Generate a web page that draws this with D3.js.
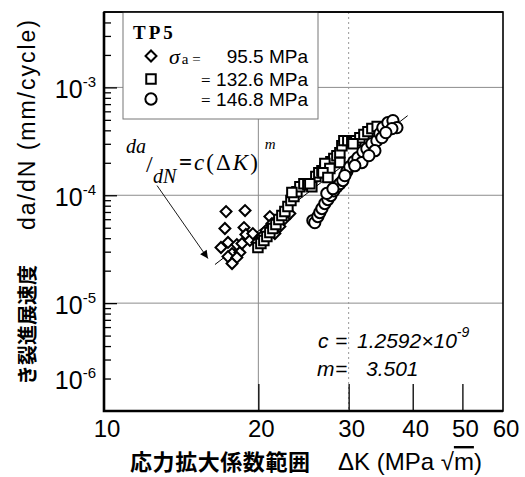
<!DOCTYPE html>
<html>
<head>
<meta charset="utf-8">
<script src="https://cdn.jsdelivr.net/npm/d3@7"></script>
<style>
  body { margin: 0; background: #fff; }
  svg { display: block; }
</style>
</head>
<body>
<script>
// sigma_a = 95.5 MPa  [dK, da/dN]
const seriesA = [
  [17.3, 7.06e-5], [18.84, 7.22e-5], [17.21, 4.92e-5], [18.75, 5.02e-5], [18.91, 4.33e-5],
  [17.45, 3.65e-5], [16.91, 3.28e-5], [18.16, 3.49e-5], [17.77, 2.88e-5], [18.41, 2.95e-5],
  [17.45, 2.70e-5], [18.16, 2.65e-5], [17.77, 2.33e-5], [18.58, 3.57e-5], [19.25, 3.81e-5],
  [19.51, 4.41e-5], [19.87, 3.65e-5], [20.32, 4.15e-5], [20.69, 4.71e-5], [21.06, 6.35e-5],
  [21.26, 5.47e-5], [21.54, 4.41e-5], [22.03, 5.13e-5], [22.53, 6.08e-5], [23.04, 6.77e-5]
];
// sigma_a = 132.6 MPa
const seriesB = [
  [19.96, 3.28e-5], [20.23, 3.57e-5], [20.50, 3.81e-5], [20.78, 4.15e-5], [21.06, 4.52e-5],
  [21.35, 4.92e-5], [21.64, 5.35e-5], [21.93, 5.96e-5], [22.23, 6.49e-5], [22.53, 7.06e-5],
  [22.84, 7.86e-5], [23.15, 8.93e-5], [23.46, 9.73e-5], [23.78, 1.08e-4], [24.10, 1.20e-4],
  [24.54, 1.28e-4], [24.98, 1.25e-4], [25.43, 1.20e-4], [25.89, 1.49e-4], [26.24, 1.62e-4],
  [26.61, 1.69e-4], [26.96, 1.80e-4], [27.33, 1.92e-4], [27.70, 2.05e-4], [28.07, 2.19e-4],
  [28.46, 2.33e-4], [28.84, 2.48e-4], [29.10, 2.88e-4], [29.36, 3.21e-4], [29.89, 3.21e-4],
  [30.43, 3.07e-4], [30.99, 3.21e-4], [31.55, 3.42e-4], [32.13, 3.65e-4], [32.71, 3.89e-4],
  [33.30, 4.15e-4], [23.25, 1.06e-4], [25.20, 1.28e-4], [26.96, 1.97e-4], [28.84, 2.01e-4],
  [27.57, 1.77e-4], [26.73, 1.62e-4], [30.60, 3.00e-4], [27.33, 1.46e-4], [34.10, 4.33e-4]
];
// sigma_a = 146.8 MPa
const seriesC = [
  [25.55, 5.83e-5], [25.77, 5.58e-5], [26.13, 6.35e-5], [26.36, 6.92e-5], [26.61, 7.54e-5],
  [26.96, 8.38e-5], [27.33, 9.12e-5], [27.70, 9.94e-5], [28.07, 1.10e-4], [28.46, 1.20e-4],
  [28.84, 1.28e-4], [29.23, 1.37e-4], [29.76, 1.66e-4], [30.16, 1.84e-4], [30.71, 2.05e-4],
  [31.27, 2.23e-4], [31.98, 2.54e-4], [32.56, 2.70e-4], [33.30, 3.01e-4], [34.06, 3.21e-4],
  [34.51, 3.73e-4], [34.98, 4.24e-4], [35.78, 4.71e-4], [36.60, 4.92e-4], [37.26, 4.24e-4],
  [36.43, 4.15e-4], [34.83, 3.42e-4], [33.75, 2.59e-4], [31.84, 2.01e-4], [27.20, 1.04e-4],
  [27.96, 1.15e-4], [29.49, 1.52e-4], [30.84, 1.88e-4], [32.85, 2.33e-4], [35.45, 3.81e-4]
];
// fitted line da/dN = c (dK)^m, end points
const fitLine = [[16.46, 2.28e-5], [39.1, 5.47e-4]];
const arrowLine = [[12.69, 1.23e-4], [15.95, 2.59e-5]];

const legendLabels = ["95.5 MPa", "132.6 MPa", "146.8 MPa"];
const xTickValues = [10, 20, 30, 40, 50, 60];
const yExponents = [-6, -5, -4, -3];

const width = 525;
const height = 477;
const margin = { top: 12, right: 22, bottom: 66, left: 104 };
const sans = "'Liberation Sans', Arial, sans-serif";
const serif = "'Liberation Serif', 'Times New Roman', serif";
const cjk = "'Noto Sans CJK JP', sans-serif";

const svg = d3.select("body").append("svg")
  .attr("width", width)
  .attr("height", height);

const x = d3.scaleLog().domain([10, 60]).range([margin.left, width - margin.right]);
const y = d3.scaleLog().domain([1e-6, 5e-3]).range([height - margin.bottom, margin.top]);
const x0 = margin.left, x1 = width - margin.right;
const y0 = height - margin.bottom, y1 = margin.top;

// grid
svg.selectAll(".hgrid")
  .data([1e-5, 1e-4, 1e-3])
  .enter().append("line")
  .attr("x1", x0).attr("x2", x1)
  .attr("y1", d => y(d)).attr("y2", d => y(d))
  .attr("stroke", "#8c8c8c").attr("stroke-width", 1);

svg.append("line")
  .attr("x1", x(20)).attr("x2", x(20)).attr("y1", y1).attr("y2", y0)
  .attr("stroke", "#8c8c8c").attr("stroke-width", 1);
svg.append("line")
  .attr("x1", x(30)).attr("x2", x(30)).attr("y1", y1).attr("y2", y0)
  .attr("stroke", "#999").attr("stroke-width", 1).attr("stroke-dasharray", "2,3");

// left ticks
const minorTicks = [];
for (let e = -6; e <= -3; e++) {
  for (let k = 2; k <= 9; k++) {
    const v = k * Math.pow(10, e);
    if (v < 5e-3) minorTicks.push(v);
  }
}
const minorAxis = svg.append("g")
  .attr("transform", `translate(${x0},0)`)
  .call(d3.axisRight(y).tickValues(minorTicks).tickSize(7).tickFormat(""));
const majorAxis = svg.append("g")
  .attr("transform", `translate(${x0},0)`)
  .call(d3.axisRight(y).tickValues([1e-5, 1e-4, 1e-3]).tickSize(13).tickFormat(""));
const bottomAxis = svg.append("g")
  .attr("transform", `translate(0,${y0})`)
  .call(d3.axisTop(x).tickValues([20, 30, 40, 50]).tickSize(27).tickFormat(""));
[minorAxis, majorAxis, bottomAxis].forEach(g => {
  g.select(".domain").remove();
  g.selectAll("line").attr("stroke", "#000").attr("stroke-width", 1.3);
});

// frame
svg.append("rect")
  .attr("x", x0).attr("y", y1)
  .attr("width", x1 - x0).attr("height", y0 - y1)
  .attr("fill", "none").attr("stroke", "#000").attr("stroke-width", 1.6);
svg.append("path")
  .attr("d", `M${x0},${y1}V${y0}H${x1}`)
  .attr("fill", "none").attr("stroke", "#000").attr("stroke-width", 2.6);

// fit line
const line = d3.line().x(d => x(d[0])).y(d => y(d[1]));
svg.append("path")
  .datum(fitLine)
  .attr("d", line)
  .attr("fill", "none").attr("stroke", "#000").attr("stroke-width", 1);

// markers
const diamond = d3.symbol().type(d3.symbolSquare).size(60);
const square = d3.symbol().type(d3.symbolSquare).size(90);
const circle = d3.symbol().type(d3.symbolCircle).size(100);

function drawSeries(data, sym, rot) {
  svg.append("g").selectAll("path")
    .data(data)
    .enter().append("path")
    .attr("d", sym)
    .attr("transform", d => `translate(${x(d[0])},${y(d[1])}) rotate(${rot})`)
    .attr("fill", "#fff").attr("stroke", "#000").attr("stroke-width", 2);
}
drawSeries(seriesA, diamond, 45);
drawSeries(seriesB, square, 0);
drawSeries(seriesC, circle, 0);

// arrow
svg.append("defs").append("marker")
  .attr("id", "arrowhead")
  .attr("viewBox", "0 0 10 10")
  .attr("refX", 10).attr("refY", 5)
  .attr("markerWidth", 14).attr("markerHeight", 8)
  .attr("markerUnits", "userSpaceOnUse")
  .attr("orient", "auto")
  .append("path").attr("d", "M0,0L10,5L0,10Z").attr("fill", "#000");
svg.append("path")
  .datum(arrowLine)
  .attr("d", line)
  .attr("stroke", "#000").attr("stroke-width", 0.9)
  .attr("marker-end", "url(#arrowhead)");

// equation
const eq = svg.append("g").style("font-family", serif);
eq.append("text").attr("x", 126).attr("y", 153).style("font-size", "20px").style("font-style", "italic").text("da");
eq.append("text").attr("x", 146).attr("y", 172).style("font-size", "24px").text("/");
eq.append("text").attr("x", 153).attr("y", 183).style("font-size", "20px").style("font-style", "italic").text("dN");
const eq2 = eq.append("text").attr("x", 179).attr("y", 170).style("font-size", "23px").style("letter-spacing", "2px");
eq2.append("tspan").style("font-weight", "bold").text("=");
eq2.append("tspan").style("font-style", "italic").text("c");
eq2.append("tspan").text("(Δ");
eq2.append("tspan").style("font-style", "italic").text("K");
eq2.append("tspan").text(")");
eq2.append("tspan").attr("dx", 5).attr("dy", -21).style("font-size", "15px").style("font-style", "italic").text("m");

// coefficients
const coef = svg.append("g").style("font-family", sans).style("font-style", "italic").style("font-size", "21px");
coef.append("text").attr("x", 318).attr("y", 348).text("c");
coef.append("text").attr("x", 335).attr("y", 348).text("=");
const c1 = coef.append("text").attr("x", 357).attr("y", 348);
c1.append("tspan").text("1.2592×10");
c1.append("tspan").attr("dy", -11).style("font-size", "14px").text("-9");
coef.append("text").attr("x", 317).attr("y", 376).text("m");
coef.append("text").attr("x", 335).attr("y", 376).text("=");
coef.append("text").attr("x", 366).attr("y", 376).text("3.501");

// legend
const lg = svg.append("g");
lg.append("rect")
  .attr("x", 123).attr("y", y1)
  .attr("width", 195).attr("height", 107)
  .attr("fill", "#fff").attr("stroke", "#777").attr("stroke-width", 1);
svg.append("line").attr("x1", x0).attr("x2", x1).attr("y1", y1).attr("y2", y1)
  .attr("stroke", "#000").attr("stroke-width", 1.6);
lg.append("text").attr("x", 133).attr("y", 39)
  .style("font-family", serif).style("font-weight", "bold").style("font-size", "19px")
  .style("letter-spacing", "3px")
  .text("TP5");
const rowY = [56, 79, 99];
const syms = [diamond, square, circle];
const rots = [45, 0, 0];
rowY.forEach((ry, i) => {
  lg.append("path").attr("d", syms[i])
    .attr("transform", `translate(151,${ry}) rotate(${rots[i]})`)
    .attr("fill", "#fff").attr("stroke", "#000").attr("stroke-width", 2);
  lg.append("text").attr("x", 308).attr("y", ry + 7)
    .attr("text-anchor", "end")
    .style("font-family", sans).style("font-size", "19px")
    .text(legendLabels[i]);
});
const sig = lg.append("text").attr("x", 169).attr("y", 64).style("font-family", serif);
sig.append("tspan").style("font-style", "italic").style("font-size", "22px").text("σ");
sig.append("tspan").attr("dx", 2).style("font-size", "15px").text("a =");
lg.append("text").attr("x", 201).attr("y", 86).style("font-family", serif).style("font-size", "17px").text("=");
lg.append("text").attr("x", 201).attr("y", 106).style("font-family", serif).style("font-size", "17px").text("=");

// tick labels
svg.selectAll(".xlab")
  .data(xTickValues)
  .enter().append("text")
  .attr("x", d => x(d) + 3)
  .attr("y", 437)
  .attr("text-anchor", "middle")
  .style("font-family", sans).style("font-size", "24px")
  .text(d => d);

yExponents.forEach(e => {
  const t = svg.append("text")
    .attr("x", 96)
    .attr("y", y(Math.pow(10, e)) + 11 + (e === -6 ? -33 : 0))
    .attr("text-anchor", "end")
    .style("font-family", sans).style("font-size", "25px");
  t.append("tspan").text("10");
  t.append("tspan").attr("dy", -11).style("font-size", "15px").text(String(e));
});

// axis titles
svg.append("text")
  .attr("transform", "translate(35,325) rotate(-90)")
  .attr("text-anchor", "middle")
  .attr("textLength", 120).attr("lengthAdjust", "spacing")
  .style("font-family", cjk).style("font-weight", "bold").style("font-size", "20px")
  .text("き裂進展速度");
svg.append("text")
  .attr("transform", "translate(35,125) rotate(-90)")
  .attr("text-anchor", "middle")
  .attr("textLength", 210).attr("lengthAdjust", "spacing")
  .style("font-family", sans).style("font-size", "23px")
  .text("da/dN (mm/cycle)");

svg.append("text").attr("x", 130).attr("y", 470)
  .attr("textLength", 180).attr("lengthAdjust", "spacing")
  .style("font-family", cjk).style("font-weight", "bold").style("font-size", "22px")
  .text("応力拡大係数範囲");
const xt = svg.append("text").attr("x", 338).attr("y", 470)
  .style("font-family", sans).style("font-size", "24px");
xt.append("tspan").text("ΔK (MPa √");
xt.append("tspan").style("text-decoration", "overline").text("m");
xt.append("tspan").text(")");
</script>
</body>
</html>
